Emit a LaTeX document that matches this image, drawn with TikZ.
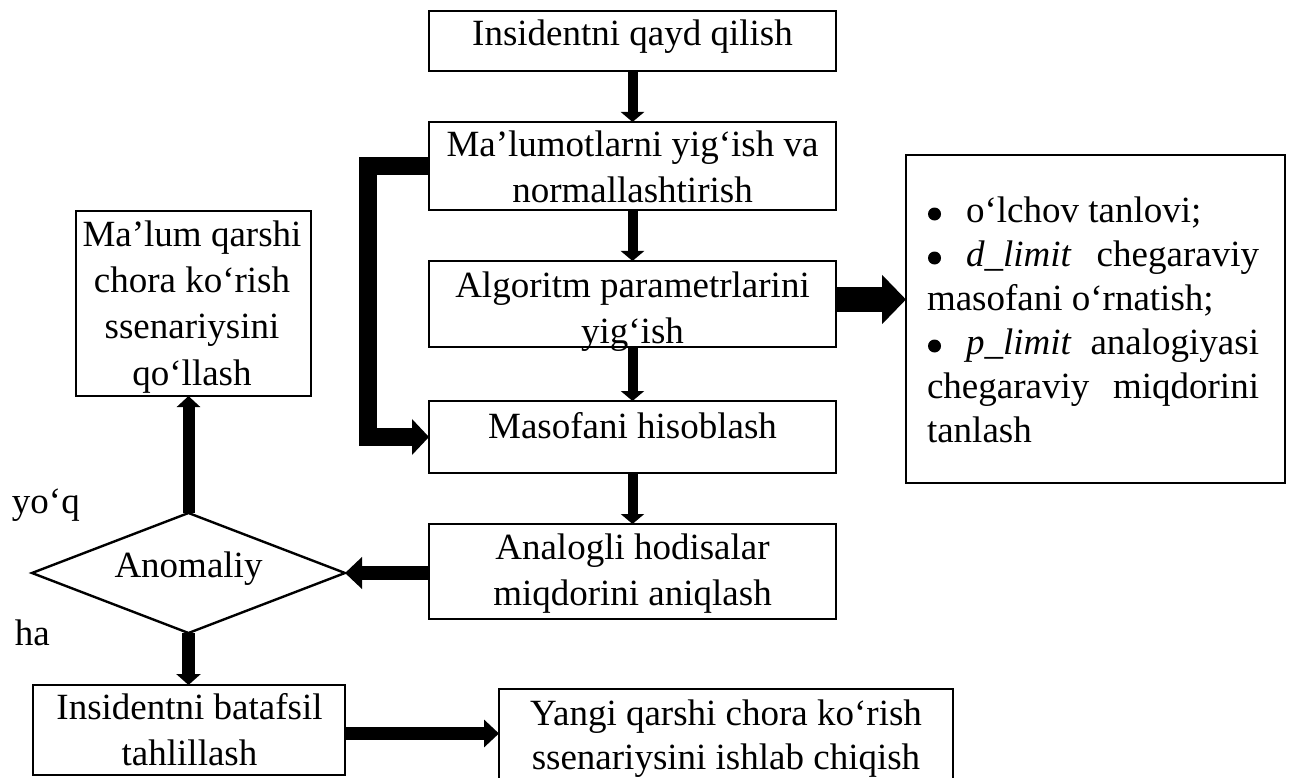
\documentclass[tikz,border=0pt]{standalone}
\usepackage{fontspec}
\setmainfont{Liberation Serif}
\usetikzlibrary{shapes.geometric,arrows.meta}
% round list bullet followed by the item indent
\newcommand{\listdot}{\makebox[39pt][l]{\hspace*{1pt}\raisebox{1.5pt}{\tikz\fill[black] (0pt,0pt) circle[radius=6.5pt];}}}
\begin{document}
\begin{tikzpicture}[x=1pt,y=-1pt,
  box/.style={draw, rectangle, line width=2.6pt, inner sep=0pt, outer sep=0pt},
  decision/.style={draw, diamond, line width=2.4pt, inner sep=0pt, outer sep=0pt},
  lbl/.style={inner sep=0pt, outer sep=0pt, align=center, anchor=base,
              font=\fontsize{37}{46}\selectfont},
  side/.style={inner sep=0pt, outer sep=0pt, anchor=base west,
              font=\fontsize{37}{46}\selectfont},
  thin arrow/.style={line width=10pt, -{Triangle[length=10pt,width=23pt]}},
  loop arrow/.style={line width=18pt, line join=miter, -{Triangle[length=17pt,width=35pt]}},
  wide arrow/.style={line width=25pt, -{Triangle[length=24pt,width=48pt]}},
  mid arrow/.style={line width=13pt, -{Triangle[length=15pt,width=27pt]}},
  up arrow/.style={line width=12pt, -{Triangle[length=11pt,width=23pt]}}
]
\useasboundingbox (0,0) rectangle (1294,778);

% main column (multi-line labels are placed by their last baseline)
\node[box, minimum width=407pt, minimum height=60pt] (b1) at (632.5,41) {};
\node[box, minimum width=407pt, minimum height=88pt] (b2) at (632.5,166) {};
\node[box, minimum width=407pt, minimum height=86pt] (b3) at (632.5,304) {};
\node[box, minimum width=407pt, minimum height=72pt] (b4) at (632.5,437) {};
\node[box, minimum width=407pt, minimum height=95pt] (b5) at (632.5,571.5) {};

\node[lbl] (t1) at (632.5,46) {Insidentni qayd qilish};
\node[lbl] (t2) at (632.5,203) {Ma’lumotlarni yig‘ish va\\normallashtirish};
\node[lbl] (t3) at (632.5,343) {Algoritm parametrlarini\\yig‘ish};
\node[lbl] (t4) at (632.5,438) {Masofani hisoblash};
\node[lbl] (t5) at (632.5,605) {Analogli hodisalar\\miqdorini aniqlash};

% parameter list
\node[box, minimum width=379pt, minimum height=328pt] (rb) at (1095.5,319) {};
\node[inner sep=0pt, outer sep=0pt, anchor=base west, align=left,
      font=\fontsize{37}{44}\selectfont] (rt) at (927,442) {%
  \listdot o‘lchov tanlovi;\\
  \hbox to 332pt{\listdot\textit{d\_limit}\hfill chegaraviy}\\
  masofani o‘rnatish;\\
  \hbox to 332pt{\listdot\textit{p\_limit}\hfill analogiyasi}\\
  \hbox to 332pt{chegaraviy\hfill miqdorini}\\
  tanlash};

% decision and its branches
\node[decision, minimum width=313pt, minimum height=120pt] (dm) at (188.5,573) {};
\node[lbl] (tdm) at (188.5,577) {Anomaliy};
\node[box, minimum width=235pt, minimum height=185pt] (ml) at (193.5,303.5) {};
\node[lbl, font=\fontsize{37}{46.3}\selectfont] (tml) at (192,385)
  {Ma’lum qarshi\\chora ko‘rish\\ssenariysini\\qo‘llash};
\node[box, minimum width=312pt, minimum height=90pt] (bat) at (189,730) {};
\node[lbl] (tbat) at (189.5,765) {Insidentni batafsil\\tahlillash};
\node[box, minimum width=454pt, minimum height=103pt] (yn) at (726,740.5) {};
\node[lbl, font=\fontsize{37}{44}\selectfont] (tyn) at (726,769)
  {Yangi qarshi chora ko‘rish\\ssenariysini ishlab chiqish};

\node[side] (yoq) at (12,513) {yo‘q};
\node[side] (ha) at (15,645) {ha};

% connectors
\draw[thin arrow] (b1.south) -- (b2.north);
\draw[thin arrow] (b2.south) -- (b3.north);
\draw[thin arrow] (b3.south) -- (b4.north);
\draw[thin arrow] (b4.south) -- (b5.north);
\draw[loop arrow] (b2.west) -- ++(-61,0) |- (b4.west);
\draw[wide arrow] ([yshift=4.5pt]b3.east) -- ([yshift=4.5pt]b3.east -| rb.west);
\draw[line width=14pt, -{Triangle[length=17pt,width=31pt]}] (dm.east -| b5.west) -- (dm.east);
\draw[up arrow] (dm.north) -- (dm.north |- ml.south);
\draw[line width=13pt, -{Triangle[length=11pt,width=24pt]}] (dm.south) -- (dm.south |- bat.north);
\draw[mid arrow] ([yshift=-3.5pt]bat.east) -- ([yshift=-3.5pt]bat.east -| yn.west);
\end{tikzpicture}
\end{document}
